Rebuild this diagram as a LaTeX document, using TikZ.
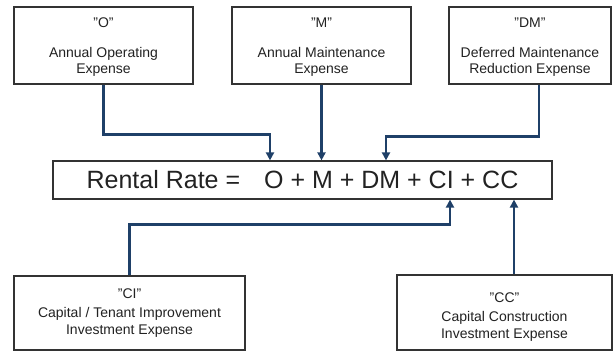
\documentclass[tikz,border=0pt]{standalone}
\usepackage{fontspec}
\setmainfont{Liberation Sans}
\usetikzlibrary{arrows.meta,positioning}
\definecolor{ink}{HTML}{222222}
\definecolor{frame}{HTML}{333333}
\definecolor{navy}{HTML}{1F4068}

\begin{document}
\begin{tikzpicture}[x=1pt,y=-1pt,
    box/.style={draw=frame,line width=1.2pt,fill=white,text=ink,inner sep=0pt,
                align=center,font=\fontsize{14}{16.5}\selectfont},
    flow/.style={draw=navy,line width=2.6pt,
                 -{Triangle[length=8pt,width=8pt]}}]
  \useasboundingbox (0,0) rectangle (613,352);
  % cost boxes on top
  \node[box,minimum width=179pt,minimum height=77pt] (opex) at (103.5,45.5)
    {\rule{0pt}{13pt}"O"\\[13pt]Annual Operating\\Expense};
  \node[box,minimum width=179pt,minimum height=77pt] (mtce) at (321.5,45.5)
    {\rule{0pt}{13pt}"M"\\[13pt]Annual Maintenance\\Expense};
  \node[box,minimum width=162pt,minimum height=77pt] (defm) at (530,45.5)
    {\rule{0pt}{13pt}"DM"\\[13pt]Deferred Maintenance\\Reduction Expense};
  % the formula
  \node[box,minimum width=499pt,minimum height=38pt,
        font=\fontsize{25}{28}\selectfont] (rent) at (302.5,180)
    {Rental Rate =\hspace{17pt} O + M + DM + CI + CC};
  % investment boxes below
  \node[box,minimum width=231pt,minimum height=74pt,
        font=\fontsize{14}{16.5}\selectfont] (capti) at (129.5,313)
    {"CI"\\[3pt]Capital / Tenant Improvement\\Investment Expense};
  \node[box,minimum width=215pt,minimum height=75pt,
        font=\fontsize{14}{16.5}\selectfont] (capcc) at (504.5,312.5)
    {\rule{0pt}{18pt}"CC"\\[3pt]Capital Construction\\Investment Expense};
  \coordinate (inO) at (270,0 |- rent.north);
  \coordinate (inDM) at (386,0 |- rent.north);
  \coordinate (outDM) at (539,0 |- defm.south);
  \coordinate (inCI) at (450,0 |- rent.south);
  \coordinate (inCC) at (514,0 |- rent.south);
  \draw[flow] (opex.south) -- ++(0,50) -| (inO);
  \draw[flow] (mtce.south) -- (mtce.south |- rent.north);
  \draw[flow] (outDM) -- ++(0,52) -| (inDM);
  \draw[flow] (capti.north) -- ++(0,-51) -| (inCI);
  \draw[flow] (capcc.north -| inCC) -- (inCC);
\end{tikzpicture}
\end{document}
